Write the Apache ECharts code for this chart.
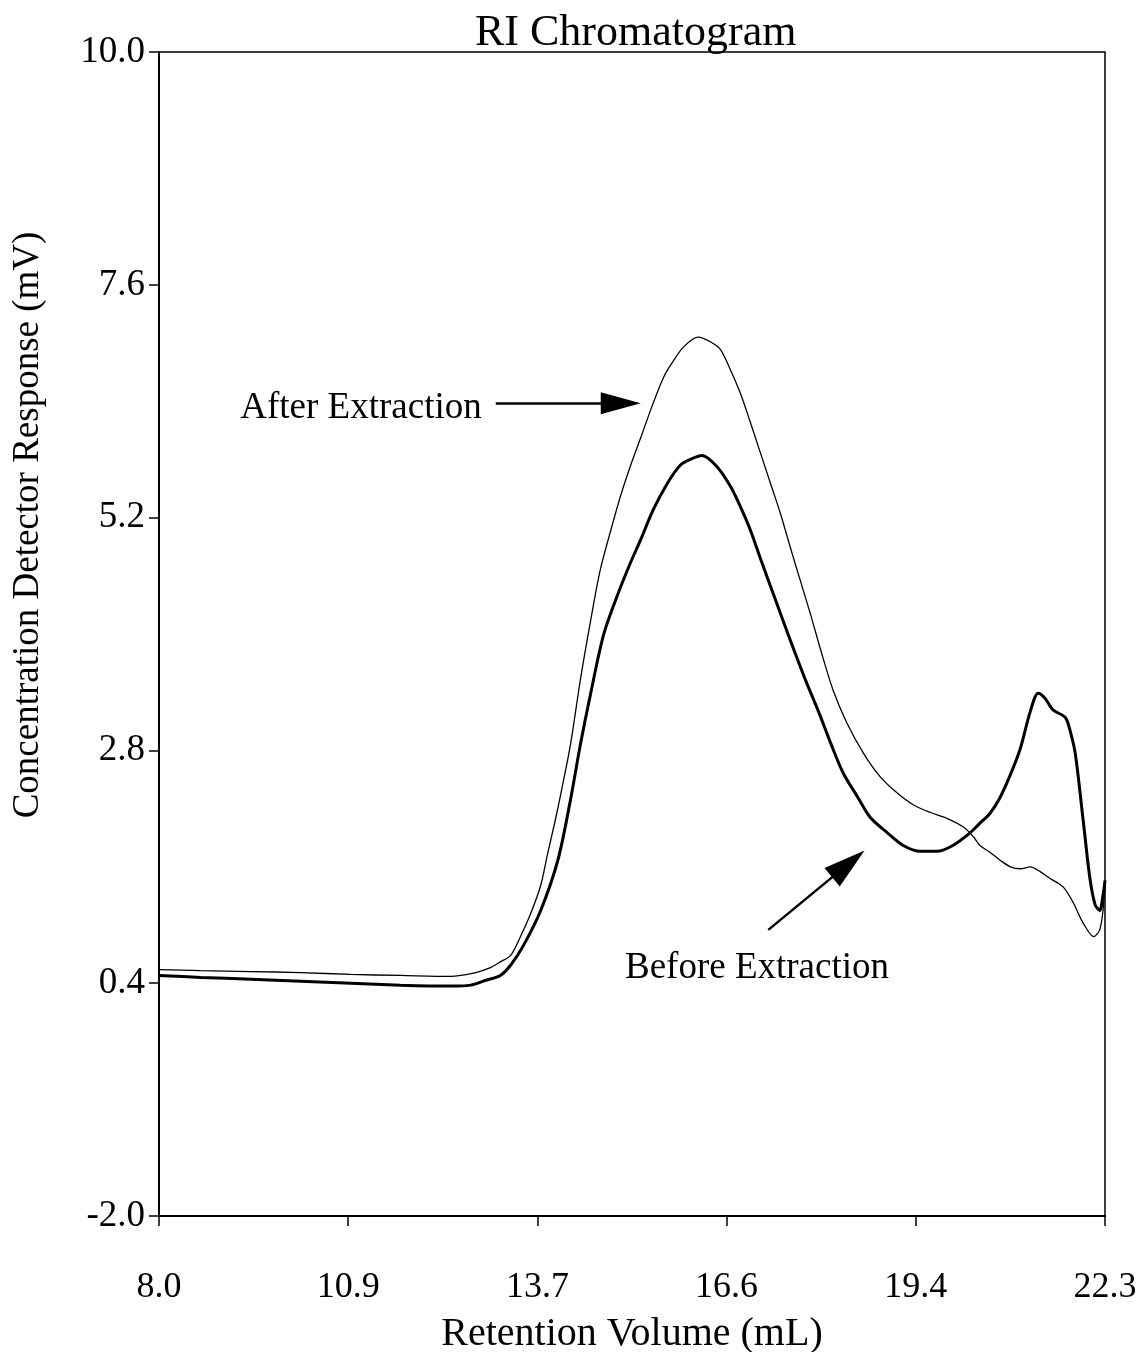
<!DOCTYPE html>
<html>
<head>
  <meta charset="utf-8">
  <title>RI Chromatogram</title>
  <script src="https://cdn.jsdelivr.net/npm/echarts@6/dist/echarts.min.js"></script>
  <style>
    html, body { margin: 0; padding: 0; background: #fff; }
  </style>
</head>
<body>
  <div id="main" style="width: 1146px;height:1352px;"></div>
  <script type="text/javascript">
    // retention volume (mL) / response (mV)
    var afterX = [8.00, 8.63, 9.39, 10.14, 10.90, 11.65, 12.41, 12.79, 13.01, 13.16, 13.32, 13.47, 13.62, 13.77, 13.87, 13.99,
      14.07, 14.22, 14.37, 14.52, 14.67, 14.83, 14.98, 15.13, 15.28, 15.47, 15.63, 15.78, 15.93, 16.15, 16.34, 16.49,
      16.64, 16.79, 16.94, 17.09, 17.24, 17.39, 17.54, 17.69, 17.85, 18.00, 18.19, 18.40, 18.65, 18.90, 19.16, 19.40,
      19.66, 19.91, 20.16, 20.31, 20.41, 20.56, 20.71, 20.87, 21.02, 21.17, 21.32, 21.47, 21.67, 21.82, 21.97, 22.13,
      22.22, 22.27, 22.30];
    var afterY = [0.54, 0.53, 0.52, 0.51, 0.49, 0.48, 0.47, 0.51, 0.56, 0.62, 0.69, 0.89, 1.12, 1.41, 1.72, 2.08,
      2.34, 2.86, 3.53, 4.12, 4.66, 5.07, 5.43, 5.74, 6.02, 6.38, 6.65, 6.82, 6.96, 7.06, 7.01, 6.93,
      6.72, 6.48, 6.18, 5.87, 5.56, 5.25, 4.90, 4.56, 4.20, 3.84, 3.42, 3.08, 2.77, 2.53, 2.36, 2.24,
      2.16, 2.10, 2.01, 1.91, 1.82, 1.75, 1.67, 1.60, 1.58, 1.60, 1.55, 1.48, 1.39, 1.23, 1.02, 0.88,
      0.95, 1.15, 1.41];

    var beforeX = [8.00, 8.63, 9.39, 10.14, 10.90, 11.65, 12.41, 12.71, 12.94, 13.16, 13.32, 13.51, 13.77, 14.03, 14.22, 14.37,
      14.52, 14.72, 14.93, 15.13, 15.28, 15.47, 15.69, 15.88, 16.03, 16.21, 16.44, 16.64, 16.79, 16.94, 17.09, 17.32,
      17.54, 17.77, 17.97, 18.15, 18.34, 18.56, 18.75, 19.01, 19.25, 19.51, 19.76, 20.00, 20.26, 20.41, 20.56, 20.71,
      20.87, 21.02, 21.17, 21.29, 21.39, 21.51, 21.70, 21.77, 21.85, 21.97, 22.07, 22.15, 22.22, 22.27, 22.30];
    var beforeY = [0.48, 0.46, 0.44, 0.42, 0.40, 0.38, 0.37, 0.38, 0.43, 0.48, 0.59, 0.79, 1.15, 1.67, 2.29, 2.86,
      3.37, 3.99, 4.40, 4.74, 4.97, 5.28, 5.56, 5.74, 5.80, 5.84, 5.72, 5.52, 5.31, 5.07, 4.78, 4.35,
      3.94, 3.53, 3.20, 2.88, 2.57, 2.32, 2.11, 1.95, 1.82, 1.76, 1.76, 1.82, 1.95, 2.05, 2.15, 2.31,
      2.55, 2.82, 3.20, 3.39, 3.34, 3.22, 3.14, 3.01, 2.77, 2.08, 1.49, 1.21, 1.15, 1.31, 1.46];

    var xTicks = [8.0, 10.86, 13.72, 16.58, 19.44, 22.3];
    var yTicks = [-2.0, 0.4, 2.8, 5.2, 7.6, 10.0];

    function pairs(xs, ys) {
      var out = [];
      for (var i = 0; i < xs.length; i++) out.push([xs[i], ys[i]]);
      return out;
    }

    var FONT = 'Liberation Serif';
    var myChart = echarts.init(document.getElementById('main'));

    myChart.setOption({
      animation: false,
      backgroundColor: '#fff',
      title: {
        text: 'RI Chromatogram',
        left: 470,
        top: 6,
        textStyle: { fontFamily: FONT, fontSize: 44, fontWeight: 'normal', color: '#000' }
      },
      grid: {
        left: 159, right: 41, top: 52, bottom: 136,
        show: true, borderColor: '#000', borderWidth: 1.5,
        containLabel: false, outerBoundsMode: 'none'
      },
      xAxis: {
        type: 'value',
        min: 8, max: 22.3,
        name: 'Retention Volume (mL)',
        nameLocation: 'middle',
        nameGap: 98,
        nameTextStyle: { fontFamily: FONT, fontSize: 40, color: '#000' },
        axisLine: { show: true, onZero: false, lineStyle: { color: '#000', width: 2 } },
        axisTick: { show: true, length: 10, customValues: xTicks, lineStyle: { color: '#000', width: 1.5 } },
        axisLabel: {
          customValues: xTicks,
          margin: 54,
          fontFamily: FONT, fontSize: 36, color: '#000',
          formatter: function (v) { return v.toFixed(1); }
        },
        splitLine: { show: false }
      },
      yAxis: {
        type: 'value',
        min: -2, max: 10,
        axisLine: { show: true, onZero: false, lineStyle: { color: '#000', width: 2 } },
        axisTick: { show: true, length: 10, customValues: yTicks, lineStyle: { color: '#000', width: 1.5 } },
        axisLabel: {
          customValues: yTicks,
          margin: 14,
          fontFamily: FONT, fontSize: 37, color: '#000',
          formatter: function (v) { return v.toFixed(1); }
        },
        splitLine: { show: false }
      },
      graphic: [
        {
          type: 'text', x: 28, y: 525, rotation: Math.PI / 2,
          style: {
            text: 'Concentration Detector Response (mV)',
            font: '37px "Liberation Serif"', fill: '#000',
            textAlign: 'center', textVerticalAlign: 'middle'
          }
        },
        {
          type: 'text', x: 361, y: 408,
          style: {
            text: 'After Extraction', font: '37px "Liberation Serif"', fill: '#000',
            textAlign: 'center', textVerticalAlign: 'middle'
          }
        },
        {
          type: 'text', x: 757, y: 968,
          style: {
            text: 'Before Extraction', font: '37px "Liberation Serif"', fill: '#000',
            textAlign: 'center', textVerticalAlign: 'middle'
          }
        }
      ],
      series: [
        {
          name: 'After Extraction',
          type: 'line',
          data: pairs(afterX, afterY),
          showSymbol: false,
          smooth: 0.3,
          lineStyle: { color: '#000', width: 1.3 },
          markLine: {
            silent: true,
            symbol: ['none', 'triangle'],
            symbolSize: [22, 40],
            label: { show: false },
            lineStyle: { color: '#000', width: 2.5, type: 'solid' },
            data: [
              [{ coord: [13.09, 6.38] }, { coord: [14.98, 6.38] }]
            ]
          }
        },
        {
          name: 'Before Extraction',
          type: 'line',
          data: pairs(beforeX, beforeY),
          showSymbol: false,
          smooth: 0.3,
          lineStyle: { color: '#000', width: 3 },
          markLine: {
            silent: true,
            symbol: ['none', 'triangle'],
            symbolSize: [24, 42],
            label: { show: false },
            lineStyle: { color: '#000', width: 2.5, type: 'solid' },
            data: [
              [{ coord: [17.21, 0.95] }, { coord: [18.42, 1.63] }]
            ]
          }
        }
      ]
    });
  </script>
</body>
</html>
